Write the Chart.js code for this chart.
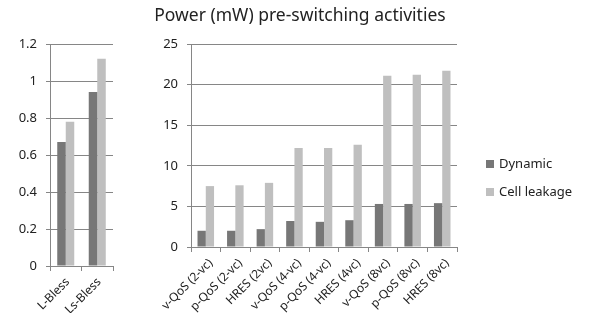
<!DOCTYPE html>
<html>
<head>
<meta charset="utf-8">
<script src="https://cdn.jsdelivr.net/npm/chart.js@4"></script>
<style>
  body { margin: 0; background: #fff; font-family: "Noto Sans", sans-serif; }
  #wrap { position: relative; width: 589px; height: 313px; overflow: hidden; }
  canvas { position: absolute; left: 0; top: 0; }
  #title { position: absolute; left: 0; width: 600px; top: 2px; text-align: center; font-size: 17.5px; color: #222; }
  .leg { position: absolute; left: 486px; font-size: 13px; color: #222; line-height: 16px; }
  .leg span { display: inline-block; width: 8px; height: 8px; margin-right: 5px; }
</style>
</head>
<body>
<div id="wrap">
  <canvas id="leftchart" width="589" height="313"></canvas>
  <canvas id="rightchart" width="589" height="313"></canvas>
  <div id="title">Power (mW) pre-switching activities</div>
  <div class="leg" style="top:155px"><span style="background:#777777"></span>Dynamic</div>
  <div class="leg" style="top:183px"><span style="background:#bfbfbf"></span>Cell leakage</div>
</div>
<script>
'use strict';

// left panel
var blessLabels = ['L-Bless', 'Ls-Bless'];
var blessDynamic = [0.67, 0.94];
var blessLeakage = [0.78, 1.12];

// right panel
var qosLabels = ['v-QoS (2-vc)', 'p-QoS (2-vc)', 'HRES (2vc)', 'v-QoS (4-vc)', 'p-QoS (4-vc)',
    'HRES (4vc)', 'v-QoS (8vc)', 'p-QoS (8vc)', 'HRES (8vc)'];
var qosDynamic = [2.0, 2.0, 2.2, 3.2, 3.1, 3.3, 5.3, 5.3, 5.4];
var qosLeakage = [7.5, 7.6, 7.9, 12.2, 12.2, 12.6, 21.1, 21.2, 21.7];

var darkGrey = '#777777';
var lightGrey = '#bfbfbf';
var lineGrey = '#868686';
var font = { family: '"Noto Sans", sans-serif', size: 13 };
var xFont = { family: '"Noto Sans", sans-serif', size: 12 };

function makeChart(id, labels, dyn, leak, opts) {
    return new Chart(document.getElementById(id), {
        type: 'bar',
        data: {
            labels: labels,
            datasets: [
                { label: 'Dynamic', data: dyn, backgroundColor: darkGrey },
                { label: 'Cell leakage', data: leak, backgroundColor: lightGrey },
            ],
        },
        options: {
            responsive: false,
            animation: false,
            datasets: { bar: { categoryPercentage: opts.cat, barPercentage: 1 } },
            layout: { padding: opts.padding },
            plugins: { legend: { display: false }, title: { display: false }, tooltip: { enabled: false } },
            scales: {
                x: {
                    grid: { drawOnChartArea: false, drawTicks: true, tickLength: 5, color: lineGrey },
                    border: { color: lineGrey },
                    ticks: {
                        font: xFont, color: '#222', minRotation: 45, maxRotation: 45,
                        padding: 4, labelOffset: opts.shift, autoSkip: false,
                    },
                    afterFit: function(scale) { scale.height = opts.xh; },
                },
                y: {
                    min: 0,
                    max: opts.max,
                    grid: { color: lineGrey, tickLength: 4 },
                    border: { color: lineGrey },
                    ticks: {
                        stepSize: opts.step, font: font, color: '#222', padding: 9,
                        callback: function(v) { return String(Number(v.toFixed(1))); },
                    },
                    afterFit: function(scale) { scale.width = opts.yw; },
                },
            },
        },
    });
}

makeChart('leftchart', blessLabels, blessDynamic, blessLeakage, {
    cat: 0.54, max: 1.2, step: 0.2, yw: 50, xh: 47, shift: 2,
    padding: { left: 0, right: 476, top: 44, bottom: 0 },
});

makeChart('rightchart', qosLabels, qosDynamic, qosLeakage, {
    cat: 0.56, max: 25, step: 5, yw: 41, xh: 66, shift: 5,
    padding: { left: 150, right: 132, top: 44, bottom: 0 },
});
</script>
</body>
</html>
